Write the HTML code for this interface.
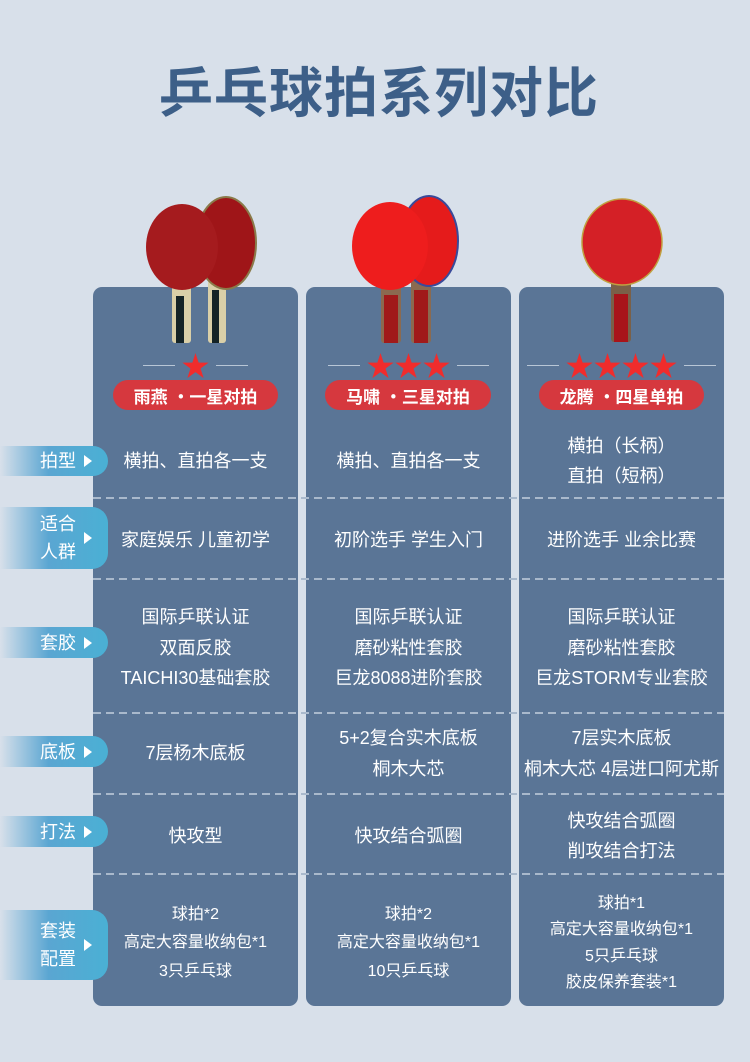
<!DOCTYPE html>
<html><head><meta charset="utf-8"><style>
*{margin:0;padding:0;box-sizing:border-box}
body{width:750px;height:1062px;background:#d8e0ea;position:relative;overflow:hidden;font-family:"Liberation Sans","Noto Sans CJK SC",sans-serif}
.title{position:absolute;left:4px;width:750px;top:62px;text-align:center;font-size:54px;font-weight:bold;color:#3d5f88;letter-spacing:1px;line-height:64px}
.col{position:absolute;top:287px;width:205px;height:719px;background:#5a7596;border-radius:9px}
.div{position:absolute;left:93px;width:631px;height:2px;background:repeating-linear-gradient(90deg,#a9b9cc 0 8px,transparent 8px 13px)}
.cell{position:absolute;width:205px;display:flex;flex-direction:column;align-items:center;justify-content:center;color:#fff;font-size:18px;text-align:center}
.cell div{line-height:30.5px;white-space:nowrap}
.sm div{font-size:16px;line-height:28.5px}
.tab{position:absolute;left:0;width:108px;border-radius:0 16px 16px 0;background:linear-gradient(90deg,rgba(74,174,212,0) 0%,#5aa6d2 45%,#4ab0d4 100%);color:#fff;font-size:18px;display:flex;align-items:center;justify-content:center;padding-right:22px;line-height:28px;text-align:center}
.tab:after{content:"";position:absolute;right:16px;top:50%;margin-top:-6px;border-left:8px solid #fff;border-top:6px solid transparent;border-bottom:6px solid transparent}
.tab span{padding-left:30px}
.pill{position:absolute;top:380px;height:30px;background:#d6383e;border-radius:15px;color:#fff;font-size:17px;font-weight:bold;display:flex;align-items:center;justify-content:center}
.stars{position:absolute;top:350px;height:30px;display:flex;align-items:center;justify-content:center;color:#f02c2c;font-size:28px}
.stars i{display:inline-block;width:32px;height:1px;background:#b8c6d6;margin:0 6px}
svg{position:absolute;left:0;top:0}
</style></head><body>
<div class="title">乒乓球拍系列对比</div>
<div class="col" style="left:93px"></div>
<div class="col" style="left:306px"></div>
<div class="col" style="left:519px"></div>

<svg width="750" height="360">
<rect x="208" y="280" width="18" height="63" rx="3" fill="#d9cfa8"/>
<rect x="212" y="290" width="7" height="53" fill="#142326"/>
<ellipse cx="226" cy="243" rx="30" ry="46" fill="#9f1518" stroke="#8a7a4a" stroke-width="2"/>
<rect x="172" y="282" width="19" height="61" rx="3" fill="#d9cfa8"/>
<rect x="176" y="296" width="8" height="47" fill="#142326"/>
<ellipse cx="182" cy="247" rx="36" ry="43" fill="#a51b1e"/>
<rect x="411" y="278" width="20" height="65" rx="3" fill="#8b6a50"/>
<rect x="414" y="290" width="14" height="53" fill="#a01a1a"/>
<ellipse cx="429" cy="241" rx="29" ry="45" fill="#e51b1b" stroke="#3a4a9a" stroke-width="2"/>
<rect x="381" y="282" width="20" height="61" rx="3" fill="#8b6a50"/>
<rect x="384" y="295" width="14" height="48" fill="#a01a1a"/>
<ellipse cx="390" cy="246" rx="38" ry="44" fill="#ee1d1d"/>
<rect x="611" y="280" width="20" height="62" rx="3" fill="#7a6048"/>
<rect x="614" y="294" width="14" height="48" fill="#a8141a"/>
<ellipse cx="622" cy="242" rx="40" ry="43" fill="#d42026" stroke="#c0a040" stroke-width="1.5"/>
</svg>

<div class="stars" style="left:93px;width:205px"><i></i>★<i></i></div>
<div class="stars" style="left:306px;width:205px"><i></i>★★★<i></i></div>
<div class="stars" style="left:519px;width:205px"><i></i>★★★★<i></i></div>
<div class="pill" style="left:113px;width:165px">雨燕 ・一星对拍</div>
<div class="pill" style="left:325px;width:166px">马啸 ・三星对拍</div>
<div class="pill" style="left:539px;width:165px">龙腾 ・四星单拍</div>

<div class="div" style="top:497px"></div>
<div class="div" style="top:578px"></div>
<div class="div" style="top:712px"></div>
<div class="div" style="top:793px"></div>
<div class="div" style="top:873px"></div>

<div class="tab" style="top:446px;height:30px"><span>拍型</span></div>
<div class="tab" style="top:507px;height:62px"><span>适合<br>人群</span></div>
<div class="tab" style="top:627px;height:31px"><span>套胶</span></div>
<div class="tab" style="top:736px;height:31px"><span>底板</span></div>
<div class="tab" style="top:816px;height:31px"><span>打法</span></div>
<div class="tab" style="top:910px;height:70px"><span>套装<br>配置</span></div>

<div class="cell" style="left:93px;top:426px;height:70px"><div>横拍、直拍各一支</div></div>
<div class="cell" style="left:306px;top:426px;height:70px"><div>横拍、直拍各一支</div></div>
<div class="cell" style="left:519px;top:426px;height:70px"><div>横拍（长柄）</div><div>直拍（短柄）</div></div>

<div class="cell" style="left:93px;top:500px;height:80px"><div>家庭娱乐 儿童初学</div></div>
<div class="cell" style="left:306px;top:500px;height:80px"><div>初阶选手 学生入门</div></div>
<div class="cell" style="left:519px;top:500px;height:80px"><div>进阶选手 业余比赛</div></div>

<div class="cell" style="left:93px;top:582px;height:132px"><div>国际乒联认证</div><div>双面反胶</div><div>TAICHI30基础套胶</div></div>
<div class="cell" style="left:306px;top:582px;height:132px"><div>国际乒联认证</div><div>磨砂粘性套胶</div><div>巨龙8088进阶套胶</div></div>
<div class="cell" style="left:519px;top:582px;height:132px"><div>国际乒联认证</div><div>磨砂粘性套胶</div><div>巨龙STORM专业套胶</div></div>

<div class="cell" style="left:93px;top:714px;height:79px"><div>7层杨木底板</div></div>
<div class="cell" style="left:306px;top:714px;height:79px"><div>5+2复合实木底板</div><div>桐木大芯</div></div>
<div class="cell" style="left:519px;top:714px;height:79px"><div>7层实木底板</div><div>桐木大芯 4层进口阿尤斯</div></div>

<div class="cell" style="left:93px;top:797px;height:78px"><div>快攻型</div></div>
<div class="cell" style="left:306px;top:797px;height:78px"><div>快攻结合弧圈</div></div>
<div class="cell" style="left:519px;top:797px;height:78px"><div>快攻结合弧圈</div><div>削攻结合打法</div></div>

<div class="cell sm" style="left:93px;top:877px;height:133px"><div>球拍*2</div><div>高定大容量收纳包*1</div><div>3只乒乓球</div></div>
<div class="cell sm" style="left:306px;top:877px;height:133px"><div>球拍*2</div><div>高定大容量收纳包*1</div><div>10只乒乓球</div></div>
<div class="cell sm" style="left:519px;top:877px;height:133px"><div style="line-height:26.5px">球拍*1</div><div style="line-height:26.5px">高定大容量收纳包*1</div><div style="line-height:26.5px">5只乒乓球</div><div style="line-height:26.5px">胶皮保养套装*1</div></div>
</body></html>
